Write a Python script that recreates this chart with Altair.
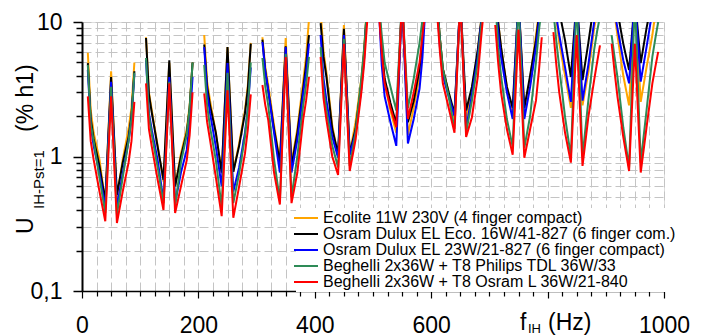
import altair as alt
import pandas as pd

# frequency offsets inside each 100 Hz band (Hz)
offsets = [10, 15, 20, 30, 40, 50, 60, 70, 80, 85, 90]
band_starts = [0, 100, 200, 300, 400, 500, 600, 700, 800, 900]

series_names = [
    "Ecolite 11W 230V (4 finger compact)",
    "Osram Dulux EL Eco. 16W/41-827 (6 finger com.)",
    "Osram Dulux EL 23W/21-827 (6 finger compact)",
    "Beghelli 2x36W + T8 Philips TDL 36W/33",
    "Beghelli 2x36W + T8 Osram L 36W/21-840",
]
series_colors = ["#FFA500", "#000000", "#0000FF", "#2E8B57", "#FF0000"]

# U_IH (% h1) per band (rows) at the offsets above (columns)
ecolite = [
    [5.9, 2.2, 1.5, 0.95, 0.45, 4.3, 0.5, 0.95, 1.6, 2.3, 5.0],
    [7.7, 3.0, 2.2, 1.2, 0.65, 5.0, 0.6, 1.05, 1.6, 2.4, 5.0],
    [8.0, 3.6, 2.6, 1.5, 0.75, 6.5, 0.77, 1.25, 2.2, 3.4, 7.0],
    [7.7, 4.6, 3.4, 1.7, 0.92, 7.6, 0.9, 1.6, 3.6, 5.5, 10.5],
    [12, 6.0, 4.2, 1.7, 1.0, 9.5, 1.05, 1.8, 3.8, 6.5, 14],
    [14, 6.0, 3.5, 2.2, 1.5, 15, 1.45, 2.3, 4.0, 7.0, 14],
    [14, 7.5, 4.5, 3.0, 1.9, 15, 1.9, 3.2, 6.0, 9.5, 14],
    [15, 10, 6.5, 3.3, 2.1, 15, 2.2, 3.8, 8.0, 11.5, 15],
    [15, 10.5, 7.0, 4.0, 2.3, 15, 2.4, 4.2, 9.0, 12, 15],
    [15, 11.5, 8.0, 4.0, 2.4, 15, 2.55, 4.6, 8.0, 11.5, 15],
]
osram_eco16 = [
    [4.95, 1.9, 1.35, 0.85, 0.47, 3.9, 0.52, 0.9, 1.4, 2.0, 4.3],
    [7.6, 2.9, 2.1, 1.18, 0.67, 5.2, 0.6, 1.0, 1.5, 2.3, 5.0],
    [6.8, 3.3, 2.4, 1.5, 0.76, 6.5, 0.77, 1.2, 2.1, 3.2, 6.9],
    [7.4, 4.3, 3.1, 1.6, 0.9, 6.6, 0.85, 1.5, 3.2, 4.8, 8.0],
    [9.8, 5.5, 3.9, 1.6, 1.05, 8.9, 1.05, 1.6, 3.5, 6.0, 14],
    [14, 6.5, 3.8, 2.5, 1.75, 15, 1.8, 2.6, 4.5, 7.5, 14],
    [14, 7.5, 4.5, 3.0, 2.1, 15, 2.2, 3.3, 6.2, 9.5, 14],
    [15, 10, 6.5, 3.3, 2.3, 15, 2.3, 4.0, 7.3, 11, 15],
    [15, 14, 12, 7.3, 3.9, 15, 3.7, 7.0, 14, 15, 15],
    [15, 14, 12, 6.9, 4.4, 15, 4.95, 9.0, 15, 15, 15],
]
osram_23 = [
    [4.4, 1.7, 1.2, 0.75, 0.42, 3.6, 0.42, 0.75, 1.3, 1.9, 4.1],
    [5.2, 2.1, 1.57, 0.94, 0.47, 3.9, 0.45, 0.76, 1.12, 1.8, 3.9],
    [6.5, 3.0, 2.1, 1.18, 0.6, 4.95, 0.55, 0.83, 1.5, 2.3, 4.6],
    [7.1, 4.3, 3.1, 1.5, 0.76, 6.5, 0.76, 1.33, 2.95, 4.2, 6.9],
    [8.0, 3.8, 2.6, 1.4, 0.98, 8.0, 1.02, 1.5, 3.2, 5.5, 13],
    [13, 4.8, 2.8, 1.8, 1.2, 15, 1.25, 1.9, 3.2, 5.5, 13],
    [14, 6.5, 4.0, 2.8, 2.0, 15, 1.6, 2.9, 5.5, 9.0, 14],
    [15, 8.5, 5.5, 3.0, 1.9, 15, 1.9, 3.3, 6.5, 10, 15],
    [15, 11, 8.0, 4.6, 2.55, 15, 2.6, 4.8, 10, 13, 15],
    [15, 12, 9.0, 5.2, 3.5, 15, 3.6, 6.5, 12, 14, 15],
]
philips_tdl = [
    [4.8, 1.75, 1.3, 0.7, 0.38, 3.3, 0.37, 0.7, 1.3, 1.9, 4.2],
    [5.4, 2.0, 1.45, 0.83, 0.45, 3.6, 0.43, 0.9, 1.45, 2.3, 5.0],
    [4.8, 2.4, 1.65, 0.94, 0.42, 4.2, 0.45, 0.75, 1.4, 2.3, 5.0],
    [5.4, 3.3, 2.4, 0.95, 0.47, 5.8, 0.5, 1.0, 2.4, 3.4, 5.5],
    [6.5, 3.2, 2.2, 1.2, 0.83, 7.5, 0.85, 1.5, 3.8, 6.5, 13],
    [14, 8.0, 5.0, 3.3, 2.2, 15, 2.3, 3.8, 7.0, 10.5, 14],
    [14, 7.5, 4.5, 2.8, 1.6, 15, 1.5, 2.6, 5.0, 8.5, 14],
    [15, 6.5, 4.0, 1.9, 1.18, 15, 1.16, 2.0, 5.0, 8.5, 13],
    [12, 7.2, 4.6, 1.96, 1.0, 15, 1.0, 2.6, 6.2, 8.5, 11],
    [8.0, 5.5, 3.9, 1.65, 0.83, 15, 0.9, 2.2, 5.5, 7.5, 10],
]
osram_l36 = [
    [2.8, 1.3, 0.95, 0.55, 0.33, 2.8, 0.32, 0.55, 0.9, 1.3, 2.55],
    [3.5, 1.6, 1.18, 0.67, 0.40, 3.5, 0.38, 0.6, 0.94, 1.45, 3.0],
    [2.95, 1.8, 1.33, 0.7, 0.36, 3.1, 0.35, 0.6, 1.05, 1.6, 2.9],
    [3.4, 2.4, 1.87, 0.76, 0.44, 5.5, 0.45, 0.76, 1.87, 2.6, 3.9],
    [5.5, 2.7, 1.87, 1.0, 0.73, 6.9, 0.78, 1.33, 3.0, 5.0, 10],
    [12, 6.0, 3.5, 2.3, 1.65, 15, 1.9, 3.0, 5.0, 8.0, 12],
    [12, 6.0, 3.5, 2.3, 1.5, 15, 1.4, 1.96, 3.9, 7.0, 12],
    [9.5, 5.0, 3.0, 1.6, 1.03, 8.8, 0.98, 1.6, 2.6, 4.3, 7.7],
    [8.4, 4.8, 3.0, 1.5, 0.9, 8.0, 0.85, 1.96, 3.7, 5.0, 6.7],
    [6.9, 4.3, 2.8, 1.4, 0.78, 6.9, 0.76, 1.65, 3.5, 4.6, 6.0],
]

x_ticks = list(range(0, 1001, 25))
x_labels = [0, 200, 400, 600, 1000]
y_ticks = [0.1, 0.2, 0.3, 0.4, 0.5, 0.6, 0.7, 0.8, 0.9,
           1, 2, 3, 4, 5, 6, 7, 8, 9, 10]

rows = []
all_series = [ecolite, osram_eco16, osram_23, philips_tdl, osram_l36]
for s_idx, (name, bands) in enumerate(zip(series_names, all_series)):
    for b_idx, base in enumerate(band_starts):
        for k, (off, v) in enumerate(zip(offsets, bands[b_idx])):
            rows.append({"series": name, "sidx": s_idx, "band": b_idx,
                         "seg": f"{s_idx}-{b_idx}", "f": base + off, "u": v, "k": k})
df = pd.DataFrame(rows)

FONT = "Liberation Sans"
label_test = " || ".join(f"datum.value == {v}" for v in x_labels)

x_axis = alt.Axis(
    values=x_ticks, title=None, grid=True,
    gridColor="#c4c4c4", gridDash=[9, 4], gridWidth=1,
    domainColor="#000000", domainWidth=1.5,
    tickColor="#000000", tickWidth=1.2,
    tickSize={"condition": {"test": "datum.value % 200 === 0", "value": 7}, "value": 5},
    labelExpr=f"({label_test}) ? datum.label : ''",
    format="d", labelFont=FONT, labelFontSize=23, labelColor="#000000",
    labelPadding=16, labelFlush=False, labelOverlap=False,
)
y_axis = alt.Axis(
    values=y_ticks, title=None, grid=True,
    gridColor="#c4c4c4", gridDash=[9, 4], gridWidth=1,
    domainColor="#000000", domainWidth=2,
    tickColor="#000000", tickWidth=1.5,
    tickSize={"condition": {"test": "datum.value == 0.1 || datum.value == 1 || datum.value == 10", "value": 9}, "value": 6},
    labelExpr="datum.value == 0.1 ? '0,1' : (datum.value == 1 ? '1' : (datum.value == 10 ? '10' : ''))",
    labelFont=FONT, labelFontSize=23, labelColor="#000000",
    labelPadding=11, labelFlush=False, labelOverlap=False,
)

lines = alt.Chart(df).mark_line(clip=True, strokeWidth=2).encode(
    x=alt.X("f:Q", scale=alt.Scale(domain=[0, 1000], nice=False), axis=x_axis),
    y=alt.Y("u:Q", scale=alt.Scale(type="log", domain=[0.1, 10], nice=False), axis=y_axis),
    color=alt.Color(
        "series:N",
        scale=alt.Scale(domain=series_names, range=series_colors),
        legend=alt.Legend(
            title=None, orient="none", legendX=214, legendY=186,
            symbolType="M-3,0H3", symbolSize=64, symbolStrokeWidth=2,
            labelFont=FONT, labelFontSize=16, labelColor="#000000",
            labelOffset=9, rowPadding=0, fillColor="#ffffff", padding=2,
            labelLimit=400,
        ),
    ),
    detail="seg:N",
    order="k:Q",
)

def txt(s, x, y, size, angle=0):
    return alt.Chart(pd.DataFrame({"t": [s]})).mark_text(
        font=FONT, fontSize=size, color="#000000", align="left",
        baseline="alphabetic", angle=angle,
    ).encode(x=alt.value(x), y=alt.value(y), text="t:N")

titles = [
    txt("U", -49, 212, 23, 270),
    txt("IH-Pst=1", -38, 187, 15, 270),
    txt("(% h1)", -49, 110, 23, 270),
    txt("f", 438, 308, 23),
    txt("IH", 446, 311, 13),
    txt("(Hz)", 466, 308, 23),
]

chart = alt.layer(lines, *titles).properties(
    width=582, height=269,
    autosize=alt.AutoSizeParams(type="none"),
    padding={"left": 74, "top": 14, "right": 34, "bottom": 44},
).configure_view(stroke="#a0a0a0", strokeWidth=1.5).configure(background="#ffffff")

chart.save("out.html", embed_options={"renderer": "svg", "actions": False})
